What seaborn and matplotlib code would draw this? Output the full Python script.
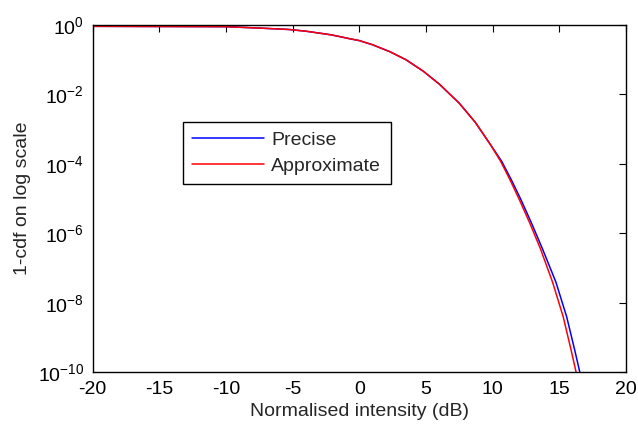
import numpy as np
import pandas as pd
import matplotlib
matplotlib.use("Agg")
import matplotlib.pyplot as plt
from matplotlib.ticker import FixedLocator, NullLocator, LogFormatterSciNotation
import seaborn as sns

sns.set_style("white")
plt.rcParams['font.family'] = ['Liberation Sans', 'DejaVu Sans']
plt.rcParams['mathtext.fontset'] = 'custom'
plt.rcParams['mathtext.rm'] = 'Liberation Sans'
plt.rcParams['mathtext.it'] = 'Liberation Sans'
plt.rcParams['axes.unicode_minus'] = False

# values (x in dB, y = 1-cdf as log10)
approx_x = [-20, -10, -7.5, -5.3, -4, -3, -2.1, -1.4, -0.8, 0, 1, 2.3, 3.5, 4.8, 6,
            7.5, 8.7, 9.8, 10.6, 11.3, 12, 12.8, 13.6, 14.5, 15.3, 15.9, 16.3]
approx_log = [-0.04, -0.05, -0.09, -0.13, -0.18, -0.235, -0.285, -0.34, -0.39, -0.45,
              -0.57, -0.77, -1.0, -1.33, -1.7, -2.25, -2.8, -3.42, -3.92, -4.45,
              -5.02, -5.71, -6.45, -7.4, -8.4, -9.37, -10.05]
precise_x = [-20, -10, -7.5, -5.3, -4, -3, -2.1, -1.4, -0.8, 0, 1, 2.3, 3.5, 4.8, 6,
             7.5, 8.7, 9.8, 10.68, 11.4, 12.12, 12.93, 13.75, 14.75, 15.56, 16.17, 16.58]
precise_log = approx_log

x_ticks = [-20, -15, -10, -5, 0, 5, 10, 15, 20]
y_ticks = [1e-10, 1e-8, 1e-6, 1e-4, 1e-2, 1e0]

precise = pd.DataFrame({"x": precise_x, "y": [10.0 ** v for v in precise_log]})
approx = pd.DataFrame({"x": approx_x, "y": [10.0 ** v for v in approx_log]})

fig = plt.figure(figsize=(6.38, 4.30), dpi=100)
ax = fig.add_axes([0.145, 0.134, 0.836, 0.808])

sns.lineplot(data=precise, x="x", y="y", color="#0000ff", linewidth=1.1,
             label="Precise", ax=ax, sort=False)
sns.lineplot(data=approx, x="x", y="y", color="#ff0000", linewidth=1.1,
             label="Approximate", ax=ax, sort=False)

ax.set_yscale("log")
ax.set_xlim(-20, 20)
ax.set_ylim(1e-10, 1)
ax.xaxis.set_major_locator(FixedLocator(x_ticks))
ax.yaxis.set_major_locator(FixedLocator(y_ticks))
ax.yaxis.set_major_formatter(LogFormatterSciNotation())
ax.yaxis.set_minor_locator(NullLocator())
ax.tick_params(direction="in", length=5, width=0.8, top=True, right=True,
               labelsize=14, colors="black", pad=6)
ax.set_xlabel("Normalised intensity (dB)", fontsize=14, labelpad=4)
ax.set_ylabel("1-cdf on log scale", fontsize=14, labelpad=5)
for s in ax.spines.values():
    s.set_color("black")
    s.set_linewidth(1.0)

leg = ax.legend(loc="upper left", bbox_to_anchor=(0.169, 0.722), fontsize=14,
                fancybox=False, frameon=True, edgecolor="black", framealpha=1,
                handlelength=3.7, borderpad=0.5, labelspacing=0.42,
                handletextpad=0.35, borderaxespad=0)
leg.get_frame().set_linewidth(1.0)

fig.savefig("out.png", dpi=100)
